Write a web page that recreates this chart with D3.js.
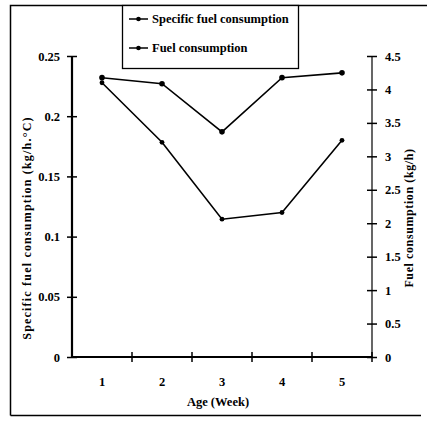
<!DOCTYPE html>
<html>
<head>
<meta charset="utf-8">
<script src="https://cdn.jsdelivr.net/npm/d3@7"></script>
<style>
  body { margin: 0; background: #fff; }
  text { font-family: "Liberation Serif", "Times New Roman", serif; font-weight: bold; fill: #000; }
</style>
</head>
<body>
<script>
// chart data
var weeks = [1, 2, 3, 4, 5];
var specificFuel = [0.232, 0.227, 0.187, 0.232, 0.236];   // kg/h.°C, left axis
var fuelCons = [4.10, 3.21, 2.06, 2.16, 3.24];            // kg/h, right axis
var leftTicks = [0, 0.05, 0.1, 0.15, 0.2, 0.25];
var rightTicks = [0, 0.5, 1, 1.5, 2, 2.5, 3, 3.5, 4, 4.5];
var seriesNames = ["Specific fuel consumption", "Fuel consumption"];

var width = 427, height = 421;
var plot = { left: 72, right: 372, top: 56, bottom: 357 };

var svg = d3.select("body").append("svg")
            .attr("width", width)
            .attr("height", height);

// outer frame
svg.append("path")
   .attr("d", "M10.5,415.5 L10.5,5.5 L427,5.5 M10.5,415.5 L421,415.5")
   .attr("fill", "none")
   .attr("stroke", "#000")
   .attr("stroke-width", 1.5);

var x = d3.scaleBand().domain(weeks).range([plot.left, plot.right]).padding(0);
var yL = d3.scaleLinear().domain([0, 0.25]).range([plot.bottom, plot.top]);
var yR = d3.scaleLinear().domain([0, 4.5]).range([plot.bottom, plot.top]);

// left axis
var gL = svg.append("g")
            .attr("transform", "translate(" + plot.left + ",0)")
            .call(d3.axisLeft(yL).tickValues(leftTicks).tickSize(5).tickPadding(7)
                  .tickFormat(function(d){ return d === 0 ? "0" : String(d); }));
gL.select(".domain").attr("stroke-width", 2.2).attr("d", "M0," + plot.bottom + "V" + plot.top);
gL.selectAll(".tick line").attr("x1", 5).attr("stroke-width", 1.5);
gL.selectAll("text").style("font-size", "12.5px");

// right axis
var gR = svg.append("g")
            .attr("transform", "translate(" + plot.right + ",0)")
            .call(d3.axisRight(yR).tickValues(rightTicks).tickSize(5).tickPadding(8)
                  .tickFormat(function(d){ return String(d); }));
gR.select(".domain").attr("stroke-width", 1.2).attr("d", "M0," + plot.bottom + "V" + plot.top);
gR.selectAll(".tick line").attr("x1", -5).attr("stroke-width", 1.5);
gR.selectAll("text").style("font-size", "12.5px");

// bottom axis: ticks on category boundaries
var gB = svg.append("g").attr("transform", "translate(0," + plot.bottom + ")");
gB.append("line")
  .attr("x1", plot.left).attr("x2", plot.right)
  .attr("stroke", "#000").attr("stroke-width", 2.2);
var bounds = weeks.map(function(d){ return x(d); }).concat([x(weeks[weeks.length - 1]) + x.bandwidth()]);
gB.selectAll("line.tk").data(bounds.slice(1)).enter().append("line")
  .attr("class", "tk")
  .attr("x1", function(d){ return d; }).attr("x2", function(d){ return d; })
  .attr("y1", -5).attr("y2", 5)
  .attr("stroke", "#000").attr("stroke-width", 1.5);
gB.selectAll("text").data(weeks).enter().append("text")
  .attr("x", function(d){ return x(d) + x.bandwidth() / 2; })
  .attr("y", 29)
  .attr("text-anchor", "middle")
  .style("font-size", "12.5px")
  .text(function(d){ return d; });

// axis titles
svg.append("text")
   .attr("x", (plot.left + plot.right) / 2 - 4).attr("y", 406)
   .attr("text-anchor", "middle").style("font-size", "12.5px")
   .text("Age (Week)");
svg.append("text")
   .attr("transform", "translate(31,228) rotate(-90)")
   .attr("text-anchor", "middle").style("font-size", "12px")
   .style("letter-spacing", "1.2px")
   .text("Specific fuel consumption (kg/h.°C)");
svg.append("text")
   .attr("transform", "translate(413,218) rotate(-90)")
   .attr("text-anchor", "middle").style("font-size", "12px")
   .style("letter-spacing", "0.6px")
   .text("Fuel consumption (kg/h)");

// lines
var lineL = d3.line()
              .x(function(d, i){ return x(weeks[i]) + x.bandwidth() / 2; })
              .y(function(d){ return yL(d); });
var lineR = d3.line()
              .x(function(d, i){ return x(weeks[i]) + x.bandwidth() / 2; })
              .y(function(d){ return yR(d); });

svg.append("path").datum(specificFuel)
   .attr("d", lineL).attr("fill", "none").attr("stroke", "#000").attr("stroke-width", 1.6);
svg.append("path").datum(fuelCons)
   .attr("d", lineR).attr("fill", "none").attr("stroke", "#000").attr("stroke-width", 1.6);

svg.selectAll("circle.sfc").data(specificFuel).enter().append("circle")
   .attr("cx", function(d, i){ return x(weeks[i]) + x.bandwidth() / 2; })
   .attr("cy", function(d){ return yL(d); })
   .attr("r", 2.8);
svg.selectAll("circle.fc").data(fuelCons).enter().append("circle")
   .attr("cx", function(d, i){ return x(weeks[i]) + x.bandwidth() / 2; })
   .attr("cy", function(d){ return yR(d); })
   .attr("r", 2.4);

// legend
var lg = svg.append("g");
lg.append("rect")
  .attr("x", 122.5).attr("y", 5.5).attr("width", 176).attr("height", 63)
  .attr("fill", "#fff").attr("stroke", "#000").attr("stroke-width", 1.3);
var rows = lg.selectAll("g.row").data(seriesNames).enter().append("g")
             .attr("transform", function(d, i){ return "translate(0," + (19 + i * 29) + ")"; });
rows.append("line").attr("x1", 129).attr("x2", 148).attr("stroke", "#000").attr("stroke-width", 1.5);
rows.append("circle").attr("cx", 138.5).attr("r", 2.3);
rows.append("text").attr("x", 152).attr("y", 4).style("font-size", "12.5px")
    .text(function(d){ return d; });
</script>
</body>
</html>
